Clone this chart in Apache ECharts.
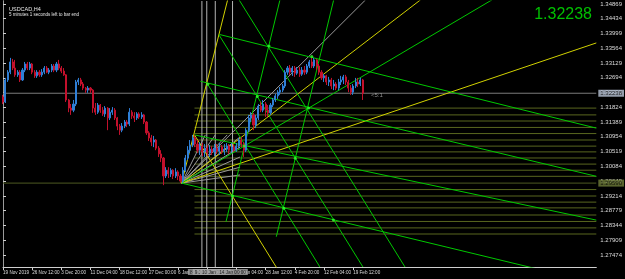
<!DOCTYPE html>
<html><head><meta charset="utf-8">
<script src="https://cdn.jsdelivr.net/npm/echarts@6/dist/echarts.min.js"></script>
<style>html,body{margin:0;padding:0;background:#000;}#c{width:625px;height:279px;}</style>
</head><body><div id="c"></div>
<script>
// ---- data ----
const symbolTitle = 'USDCAD,H4';
const subTitle = '5 minutes 1 seconds left to bar end';
const bidPrice = 1.32238;
const levelPrice = 1.2959;
const tickLabels = ['19 Nov 2019','26 Nov 12:00','3 Dec 20:00','11 Dec 04:00','18 Dec 12:00','27 Dec 00:00','6 Jan 12:00','13 Jan 20:00','21 Jan 04:00','28 Jan 12:00','4 Feb 20:00','12 Feb 04:00','19 Feb 12:00'];
const priceTicks = [1.27474,1.27909,1.28344,1.28779,1.29214,1.29649,1.30084,1.30519,1.30954,1.31389,1.31824,1.32259,1.32694,1.33129,1.33564,1.33999,1.34434,1.34869];
const priceMin = 1.27118, priceMax = 1.34956;
const barsPerLabel = 12;
const slotCount = 245;
// [open, close, low, high]
const candles = [
[1.3213,1.3198,1.3192,1.3219],[1.3198,1.3263,1.3195,1.3269],[1.3263,1.3286,1.3257,1.3292],[1.3286,1.3316,1.3280,1.3328],
[1.3316,1.3298,1.3292,1.3325],[1.3298,1.3278,1.3272,1.3322],[1.3278,1.3286,1.3272,1.3292],[1.3286,1.3263,1.3257,1.3292],
[1.3263,1.3292,1.3260,1.3298],[1.3292,1.3310,1.3286,1.3316],[1.3310,1.3298,1.3292,1.3316],[1.3298,1.3310,1.3292,1.3316],
[1.3310,1.3286,1.3280,1.3313],[1.3286,1.3275,1.3269,1.3292],[1.3275,1.3286,1.3269,1.3292],[1.3286,1.3278,1.3272,1.3292],
[1.3278,1.3286,1.3272,1.3295],[1.3286,1.3298,1.3280,1.3304],[1.3298,1.3286,1.3283,1.3304],[1.3286,1.3292,1.3280,1.3298],
[1.3292,1.3304,1.3286,1.3310],[1.3304,1.3292,1.3286,1.3310],[1.3292,1.3310,1.3286,1.3316],[1.3310,1.3298,1.3292,1.3322],
[1.3298,1.3289,1.3283,1.3304],[1.3289,1.3278,1.3275,1.3298],[1.3278,1.3204,1.3198,1.3280],[1.3204,1.3180,1.3168,1.3207],
[1.3180,1.3174,1.3160,1.3192],[1.3174,1.3192,1.3168,1.3204],[1.3192,1.3257,1.3186,1.3263],[1.3257,1.3263,1.3248,1.3269],
[1.3263,1.3251,1.3245,1.3269],[1.3251,1.3239,1.3233,1.3257],[1.3239,1.3233,1.3225,1.3242],[1.3233,1.3239,1.3225,1.3245],
[1.3239,1.3233,1.3225,1.3242],[1.3233,1.3180,1.3166,1.3236],[1.3180,1.3168,1.3160,1.3195],[1.3168,1.3189,1.3163,1.3195],
[1.3189,1.3174,1.3166,1.3192],[1.3174,1.3163,1.3157,1.3183],[1.3163,1.3180,1.3154,1.3186],[1.3180,1.3151,1.3115,1.3183],
[1.3151,1.3168,1.3145,1.3180],[1.3168,1.3174,1.3160,1.3183],[1.3174,1.3151,1.3145,1.3180],[1.3151,1.3127,1.3115,1.3154],
[1.3127,1.3115,1.3101,1.3133],[1.3115,1.3127,1.3109,1.3136],[1.3127,1.3139,1.3121,1.3145],[1.3139,1.3133,1.3124,1.3145],
[1.3133,1.3168,1.3127,1.3180],[1.3168,1.3157,1.3148,1.3174],[1.3157,1.3151,1.3139,1.3168],[1.3151,1.3163,1.3145,1.3168],
[1.3163,1.3154,1.3148,1.3168],[1.3154,1.3160,1.3148,1.3168],[1.3160,1.3139,1.3133,1.3163],[1.3139,1.3107,1.3101,1.3142],
[1.3107,1.3092,1.3083,1.3112],[1.3092,1.3080,1.3068,1.3101],[1.3080,1.3086,1.3065,1.3098],[1.3086,1.3062,1.3056,1.3089],
[1.3062,1.3045,1.3036,1.3068],[1.3045,1.3033,1.3021,1.3056],[1.3033,1.2980,1.2953,1.3036],[1.2980,1.2997,1.2974,1.3006],
[1.2997,1.2986,1.2974,1.3006],[1.2986,1.2997,1.2977,1.3003],[1.2997,1.2980,1.2971,1.3000],[1.2980,1.2992,1.2974,1.3003],
[1.2992,1.2980,1.2968,1.2997],[1.2980,1.2965,1.2959,1.2986],[1.2965,1.2997,1.2959,1.3006],[1.2997,1.3033,1.2992,1.3042],
[1.3033,1.3056,1.3027,1.3068],[1.3056,1.3071,1.3048,1.3086],[1.3071,1.3092,1.3065,1.3101],[1.3092,1.3074,1.3065,1.3101],
[1.3074,1.3056,1.3048,1.3086],[1.3056,1.3068,1.3042,1.3080],[1.3068,1.3051,1.3039,1.3077],[1.3051,1.3062,1.3036,1.3074],
[1.3062,1.3048,1.3039,1.3071],[1.3048,1.3059,1.3036,1.3071],[1.3059,1.3051,1.3042,1.3068],[1.3051,1.3062,1.3039,1.3074],
[1.3062,1.3053,1.3045,1.3074],[1.3053,1.3065,1.3042,1.3077],[1.3065,1.3053,1.3045,1.3071],[1.3053,1.3059,1.3042,1.3074],
[1.3059,1.3068,1.3051,1.3077],[1.3068,1.3056,1.3045,1.3074],[1.3056,1.3065,1.3048,1.3077],[1.3065,1.3056,1.3051,1.3074],
[1.3056,1.3068,1.3051,1.3077],[1.3068,1.3086,1.3062,1.3092],[1.3086,1.3074,1.3065,1.3095],[1.3074,1.3056,1.3036,1.3080],
[1.3056,1.3115,1.3051,1.3121],[1.3115,1.3151,1.3109,1.3160],[1.3151,1.3160,1.3139,1.3168],[1.3160,1.3130,1.3115,1.3166],
[1.3130,1.3151,1.3121,1.3160],[1.3151,1.3186,1.3145,1.3192],[1.3186,1.3174,1.3168,1.3198],[1.3174,1.3192,1.3168,1.3204],
[1.3192,1.3174,1.3154,1.3198],[1.3174,1.3166,1.3154,1.3189],[1.3166,1.3189,1.3160,1.3195],[1.3189,1.3204,1.3183,1.3210],
[1.3204,1.3216,1.3198,1.3222],[1.3216,1.3227,1.3207,1.3233],[1.3227,1.3233,1.3219,1.3242],[1.3233,1.3245,1.3227,1.3251],
[1.3245,1.3286,1.3239,1.3292],[1.3286,1.3298,1.3278,1.3304],[1.3298,1.3286,1.3278,1.3307],[1.3286,1.3298,1.3275,1.3304],
[1.3298,1.3283,1.3272,1.3304],[1.3283,1.3292,1.3278,1.3301],[1.3292,1.3280,1.3272,1.3301],[1.3280,1.3292,1.3275,1.3301],
[1.3292,1.3286,1.3278,1.3304],[1.3286,1.3304,1.3280,1.3310],[1.3304,1.3316,1.3298,1.3322],[1.3316,1.3304,1.3298,1.3328],
[1.3304,1.3322,1.3298,1.3328],[1.3322,1.3304,1.3292,1.3325],[1.3304,1.3286,1.3278,1.3310],[1.3286,1.3269,1.3263,1.3292],
[1.3269,1.3275,1.3257,1.3280],[1.3275,1.3257,1.3248,1.3278],[1.3257,1.3263,1.3245,1.3272],[1.3263,1.3245,1.3236,1.3269],
[1.3245,1.3251,1.3233,1.3263],[1.3251,1.3239,1.3233,1.3257],[1.3239,1.3257,1.3233,1.3266],[1.3257,1.3263,1.3248,1.3275],
[1.3263,1.3272,1.3251,1.3278],[1.3272,1.3257,1.3248,1.3278],[1.3257,1.3239,1.3227,1.3263],[1.3239,1.3227,1.3219,1.3248],
[1.3227,1.3245,1.3219,1.3251],[1.3245,1.3257,1.3239,1.3269],[1.3257,1.3251,1.3242,1.3269],[1.3251,1.3263,1.3245,1.3269],
[1.3263,1.3224,1.3204,1.3266]
];
// drawn objects, endpoints as [bar, price, bar, price]
const yellowLines = [
[73.45,1.2959,93.4,1.3528],[73.45,1.2959,171.7,1.3499],[73.45,1.2959,244,1.3372],[78.75,1.3101,115.7,1.2673]
];
const greenLines = [
[89.0,1.3397,244,1.3121],[81.2,1.3259,244,1.2979],[78.75,1.3101,244,1.2850],[73.45,1.2959,244,1.2664],
[73.45,1.2959,201.1,1.3499],
[84.2,1.3250,130.3,1.2712],[88.9,1.3395,148.0,1.2712],[97.1,1.3499,165.3,1.2712],
[91.7,1.2845,113.9,1.3499],[112.4,1.2801,136.0,1.3499]
];
const grayLines = [
[73.45,1.2959,149.1,1.3499],[73.45,1.2959,97.5,1.3095],[73.45,1.2959,97.5,1.3065],[73.45,1.2959,97.5,1.3036],
[73.45,1.2959,97.5,1.3006],[73.45,1.2959,97.5,1.2983],[73.45,1.2959,83.2,1.3101],[73.45,1.2959,87.3,1.3101],
[73.45,1.2959,92.2,1.3101]
];
const gridNodes = [
[84.2,1.3250],[109.4,1.3363],[127.0,1.3332],[104.6,1.3214],[125.7,1.3180],[99.3,1.3068],[120.2,1.3032],[94.4,1.2921],[115.5,1.2885],[135.9,1.2850]
];
const levelStart = 78.75;
const levels = [1.3180,1.3160,1.3142,1.3123,1.3105,1.3086,1.3068,1.3051,1.3033,1.3015,1.2997,1.2979,1.2940,1.2921,1.2903,1.2886,1.2865,1.2846,1.2827,1.2809];
const verticalBars = [81.8,83.8,87.3,94.4];
const verticalLabels = ['8 Jan 12:00','9 Jan 08:00','10 Jan 16:00','14 Jan 00:00'];
const countdownText = '<5:1';
const countdownAt = [150.5, 1.3219];

// ---- chart ----
const FONT = 'Liberation Sans';
const lastSlot = slotCount - 1;
const cats = []; for (let i = 0; i < slotCount; i++) cats.push(i);
const labelTicks = tickLabels.map((t, i) => i * barsPerLabel);

function seg(s, color, width, z) {
  return {type:'line', xAxisIndex:1, yAxisIndex:0, silent:true, animation:false, symbol:'none', z: z||3,
    data:[[s[0], s[1]],[s[2], s[3]]], lineStyle:{color:color, width:width||1}};
}
function tag(point, text, pos, fg, bg, size) {
  return {type:'scatter', xAxisIndex:1, yAxisIndex:0, silent:true, animation:false, symbolSize:0, clip:false, z:8,
    data:[point], label:{show:true, position:pos, formatter:text, color:fg, backgroundColor:bg || 'transparent',
      fontSize:size, fontFamily:FONT, padding: bg ? [1,2,0,2] : 0, distance:2}};
}
const series = [];
series.push({type:'candlestick', xAxisIndex:0, yAxisIndex:0, barWidth:1.6, animation:false, z:5,
  data: candles,
  itemStyle:{color:'#2f7fd6', color0:'#c3102c', borderColor:'#2f7fd6', borderColor0:'#c3102c', borderWidth:1}});
series.push(seg([0,levelPrice,lastSlot,levelPrice], '#4d5a22', 1, 2));
series.push(seg([0,bidPrice,lastSlot,bidPrice], '#7c7c7c', 1, 2));
levels.forEach(p => series.push(seg([levelStart,p,lastSlot,p], '#59661f', 1, 2)));
verticalBars.forEach(u => series.push(seg([u,priceMin,u,priceMax], '#b4b4b4', 1, 3)));
grayLines.forEach(s => series.push(seg(s, '#9a9a9a', 1, 3)));
yellowLines.forEach(s => series.push(seg(s, '#d2d200', 1, 4)));
greenLines.forEach(s => series.push(seg(s, '#00c800', 1, 4)));
series.push({type:'scatter', xAxisIndex:1, yAxisIndex:0, silent:true, animation:false, z:6, symbolSize:3,
  itemStyle:{color:'#33ff33'}, data: gridNodes});
verticalBars.forEach((u, i) => series.push(tag([u, priceMin], verticalLabels[i], 'bottom', '#000', '#a8a8a8', 4.6)));
series.push(tag([lastSlot, bidPrice], bidPrice.toFixed(5), 'right', '#000', '#b9c4d6', 6));
series.push(tag([lastSlot, levelPrice], levelPrice.toFixed(5), 'right', '#000', '#6f7d3a', 6));
series.push(tag(countdownAt, countdownText, 'right', '#b0b0b0', null, 6));

const option = {
  backgroundColor:'#000',
  animation:false,
  title:[
    {text:symbolTitle, left:4, top:1, textStyle:{color:'#e6e6e6', fontSize:5.5, fontWeight:'normal', fontFamily:FONT}},
    {text:subTitle, left:4, top:7, textStyle:{color:'#e6e6e6', fontSize:4.5, fontWeight:'normal', fontFamily:FONT}},
    {text:bidPrice.toFixed(5), right:28, top:2, textStyle:{color:'#00c000', fontSize:16, fontWeight:'normal', fontFamily:FONT}}
  ],
  grid:{left:2, right:25, top:1, bottom:12},
  xAxis:[
    {type:'category', data:cats, boundaryGap:false, show:false},
    {type:'value', min:0, max:lastSlot, position:'bottom',
     axisLine:{show:true, lineStyle:{color:'#cfcfcf', width:1}},
     axisTick:{show:true, length:3, customValues: labelTicks, lineStyle:{color:'#cfcfcf'}},
     axisLabel:{customValues: labelTicks, color:'#dcdcdc', fontSize:4.6, fontFamily:FONT, align:'left', margin:3,
       formatter: v => tickLabels[Math.round(v / barsPerLabel)] || ''},
     splitLine:{show:false}}
  ],
  yAxis:[
    {type:'value', position:'right', min: priceMin, max: priceMax,
     axisLine:{show:true, lineStyle:{color:'#cfcfcf', width:1}},
     axisTick:{show:true, length:3, customValues: priceTicks, lineStyle:{color:'#cfcfcf'}},
     axisLabel:{customValues: priceTicks, color:'#dcdcdc', fontSize:6, fontFamily:FONT, margin:4,
       formatter: v => v.toFixed(5)},
     splitLine:{show:false}},
    {type:'value', position:'left', min:0, max:1, axisLine:{show:true, lineStyle:{color:'#9a9a9a'}},
     axisTick:{show:false}, axisLabel:{show:false}, splitLine:{show:false}}
  ],
  series: series
};
const chart = echarts.init(document.getElementById('c'), null, {renderer:'canvas'});
chart.setOption(option);
</script>
</body></html>
